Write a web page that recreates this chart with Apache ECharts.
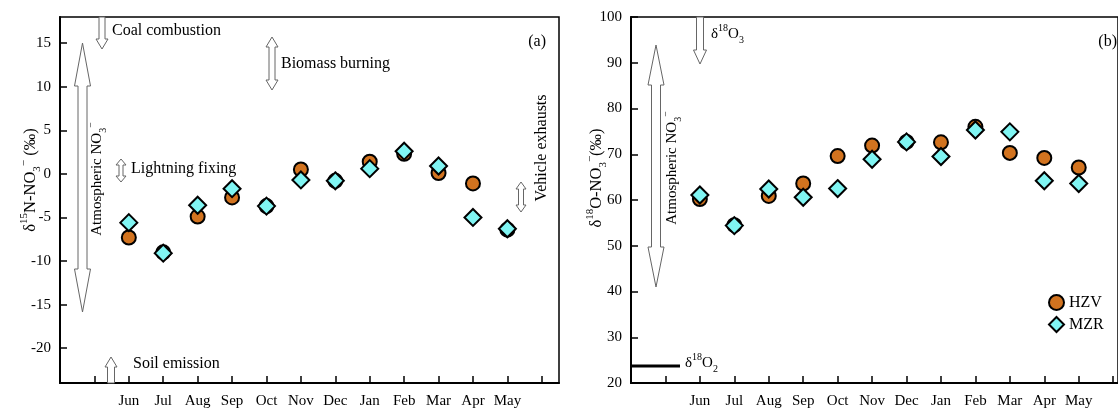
<!DOCTYPE html>
<html>
<head>
<meta charset="utf-8">
<script src="https://cdn.jsdelivr.net/npm/echarts@6/dist/echarts.min.js"></script>
<style>
  html, body { margin: 0; padding: 0; background: #fff; }
  #chart { width: 1118px; height: 410px; }
</style>
</head>
<body>
<div id="chart"></div>
<script>
  // sampling months (Jun .. May), placed at x = 1..12
  const months = ['Jun', 'Jul', 'Aug', 'Sep', 'Oct', 'Nov', 'Dec', 'Jan', 'Feb', 'Mar', 'Apr', 'May'];
  const xTicks = [0, 1, 2, 3, 4, 5, 6, 7, 8, 9, 10, 11, 12, 13];
  const xLabels = [1, 2, 3, 4, 5, 6, 7, 8, 9, 10, 11, 12];

  // (a) d15N-NO3 (permil)
  const hzvN = [-7.3, -9.0, -4.9, -2.7, -3.7, 0.5, -0.8, 1.4, 2.3, 0.1, -1.1, -6.4];
  const mzrN = [-5.6, -9.1, -3.6, -1.7, -3.7, -0.7, -0.8, 0.6, 2.6, 0.9, -5.0, -6.3];
  const nTicks = [-20, -15, -10, -5, 0, 5, 10, 15];

  // (b) d18O-NO3 (permil)
  const hzvO = [60.2, 54.5, 60.9, 63.6, 69.6, 71.9, 72.7, 72.6, 76.0, 70.3, 69.2, 67.1];
  const mzrO = [61.1, 54.4, 62.4, 60.6, 62.5, 68.9, 72.7, 69.5, 75.3, 74.9, 64.2, 63.6];
  const oTicks = [20, 30, 40, 50, 60, 70, 80, 90, 100];

  const FONT = 'Liberation Serif';
  const pairs = (vals) => vals.map((v, i) => [xLabels[i], v]);

  const rich = {
    n: { fontFamily: FONT, fontSize: 15, color: '#000', lineHeight: 22 },
    sup: { fontFamily: FONT, fontSize: 10, color: '#000', verticalAlign: 'top', lineHeight: 22 },
    sub: { fontFamily: FONT, fontSize: 10, color: '#000', verticalAlign: 'bottom', lineHeight: 22 },
    N: { fontFamily: FONT, fontSize: 16.5, color: '#000', lineHeight: 24 },
    SUP: { fontFamily: FONT, fontSize: 11, color: '#000', verticalAlign: 'top', lineHeight: 24 },
    SUB: { fontFamily: FONT, fontSize: 11, color: '#000', verticalAlign: 'bottom', lineHeight: 24 }
  };

  function xAx(gridIndex, max) {
    return {
      type: 'value', gridIndex: gridIndex, min: -1, max: max,
      axisLine: { onZero: false, lineStyle: { color: '#000', width: 2 } },
      axisTick: { inside: true, length: 7, lineStyle: { color: '#000', width: 1.5 }, customValues: xTicks },
      axisLabel: {
        customValues: xLabels, margin: 11, color: '#000', fontFamily: FONT, fontSize: 15,
        formatter: (v) => months[v - 1] || ''
      },
      splitLine: { show: false }
    };
  }
  function yAx(gridIndex, min, max, ticks) {
    return {
      type: 'value', gridIndex: gridIndex, min: min, max: max,
      axisLine: { show: true, onZero: false, lineStyle: { color: '#000', width: 2 } },
      axisTick: { show: true, inside: true, length: 7, lineStyle: { color: '#000', width: 1.5 }, customValues: ticks },
      axisLabel: { customValues: ticks, margin: 9, color: '#000', fontFamily: FONT, fontSize: 15 },
      splitLine: { show: false }
    };
  }
  function dots(name, xi, data) {
    const isH = name === 'HZV';
    return {
      name: name, type: 'scatter', xAxisIndex: xi, yAxisIndex: xi, data: data,
      symbol: isH ? 'circle' : 'diamond', symbolSize: isH ? 14 : 17,
      itemStyle: { color: isH ? '#d2731f' : '#80f5f3', borderColor: '#000', borderWidth: 2, opacity: 1 },
      emphasis: { disabled: true }
    };
  }

  // hollow vertical arrow outline
  function vArrow(x, y1, y2, sw, hw, hl, headTop, headBot) {
    const p = [];
    if (headTop) p.push([x, y1], [x + hw, y1 + hl], [x + sw, y1 + hl]); else p.push([x + sw, y1]);
    if (headBot) p.push([x + sw, y2 - hl], [x + hw, y2 - hl], [x, y2], [x - hw, y2 - hl], [x - sw, y2 - hl]);
    else p.push([x + sw, y2], [x - sw, y2]);
    if (headTop) p.push([x - sw, y1 + hl], [x - hw, y1 + hl]); else p.push([x - sw, y1]);
    return {
      type: 'polygon', shape: { points: p }, z: 5,
      style: { fill: '#fff', stroke: '#666', lineWidth: 1 }
    };
  }
  function txt(x, y, text, opts) {
    opts = opts || {};
    return {
      type: 'text', x: x, y: y, rotation: opts.rot || 0, z: 6,
      style: {
        text: text, rich: rich, fill: '#000', font: (opts.size || 16) + 'px "' + FONT + '"',
        align: opts.align || 'left', verticalAlign: 'middle'
      }
    };
  }

  const chart = echarts.init(document.getElementById('chart'));
  const option = {
    animation: false,
    backgroundColor: '#fff',
    grid: [
      { left: 60, top: 17, width: 499, height: 366, show: true, borderColor: '#000', borderWidth: 1.5 },
      { left: 631, top: 17, width: 487, height: 366, show: true, borderColor: '#000', borderWidth: 1.5 }
    ],
    xAxis: [xAx(0, 13.5), xAx(1, 13.14)],
    yAxis: [yAx(0, -24, 18, nTicks), yAx(1, 20, 100, oTicks)],
    legend: {
      data: ['HZV', 'MZR'], orient: 'vertical', left: 1043, top: 289,
      itemWidth: 15, itemHeight: 15, itemGap: 5,
      textStyle: { fontFamily: FONT, fontSize: 16, color: '#000' }
    },
    series: [
      dots('HZV', 0, pairs(hzvN)),
      dots('MZR', 0, pairs(mzrN)),
      dots('HZV', 1, pairs(hzvO)),
      dots('MZR', 1, pairs(mzrO))
    ],
    graphic: [
      // panel (a)
      vArrow(82.5, 43, 312, 4.5, 8, 43, true, true),
      vArrow(102, 17, 49, 3, 6, 10, false, true),
      vArrow(272, 37, 90, 3, 6, 10, true, true),
      vArrow(121, 159, 182, 2, 5, 6, true, true),
      vArrow(521, 182, 212, 2.5, 5, 7, true, true),
      vArrow(111, 357, 383, 3.5, 6, 10, true, false),
      txt(112, 31, 'Coal combustion'),
      txt(281, 64, 'Biomass burning'),
      txt(131, 169, 'Lightning fixing'),
      txt(133, 364, 'Soil emission'),
      txt(546, 42, '(a)', { align: 'right' }),
      txt(542, 148, 'Vehicle exhausts', { align: 'center', rot: Math.PI / 2 }),
      txt(97, 179, '{n|Atmospheric NO}{sub|3}{sup|−}', { align: 'center', rot: Math.PI / 2 }),
      txt(31, 180, '{N|δ}{SUP|15}{N|N-NO}{SUB|3}{SUP|−}{N| (‰)}', { align: 'center', rot: Math.PI / 2 }),
      // panel (b)
      vArrow(656, 45, 287, 4.5, 8, 40, true, true),
      vArrow(700, 17, 64, 3.5, 6.5, 14, false, true),
      { type: 'line', shape: { x1: 631, y1: 366, x2: 680, y2: 366 }, z: 6, style: { stroke: '#000', lineWidth: 3 } },
      txt(711, 34, '{n|δ}{sup|18}{n|O}{sub|3}'),
      txt(685, 363, '{n|δ}{sup|18}{n|O}{sub|2}'),
      txt(1117, 42, '(b)', { align: 'right' }),
      txt(672, 168, '{n|Atmospheric NO}{sub|3}{sup|−}', { align: 'center', rot: Math.PI / 2 }),
      txt(597, 178, '{N|δ}{SUP|18}{N|O-NO}{SUB|3}{SUP|−}{N|(‰)}', { align: 'center', rot: Math.PI / 2 })
    ]
  };
  chart.setOption(option);
</script>
</body>
</html>
